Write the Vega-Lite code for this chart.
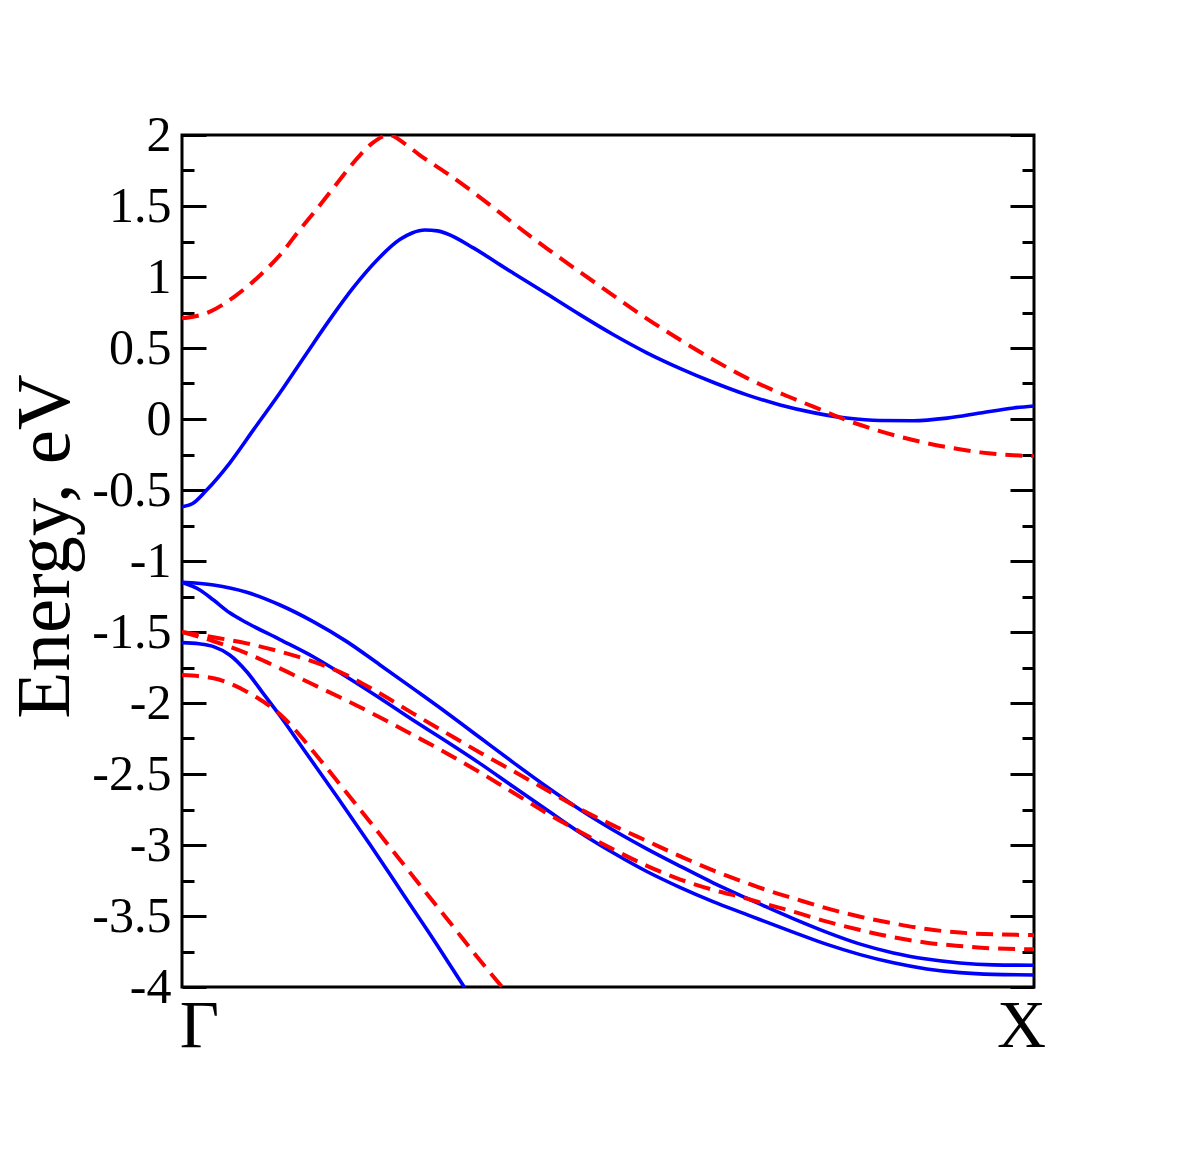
{
  "$schema": "https://vega.github.io/schema/vega-lite/v6.json",
  "width": 852,
  "height": 852,
  "autosize": {"type": "none"},
  "padding": {"left": 182, "top": 135, "right": 166, "bottom": 175},
  "background": "white",
  "config": {"view": {"stroke": "black", "strokeWidth": 3}, "font": "Liberation Serif"},
  "datasets": {
    "up": [
      {"band": "c", "k": 0, "E": -0.618},
      {"band": "c", "k": 0.012, "E": -0.597},
      {"band": "c", "k": 0.029, "E": -0.5},
      {"band": "c", "k": 0.056, "E": -0.31},
      {"band": "c", "k": 0.084, "E": -0.075},
      {"band": "c", "k": 0.115, "E": 0.185},
      {"band": "c", "k": 0.146, "E": 0.46},
      {"band": "c", "k": 0.174, "E": 0.705},
      {"band": "c", "k": 0.201, "E": 0.925},
      {"band": "c", "k": 0.229, "E": 1.12},
      {"band": "c", "k": 0.256, "E": 1.265},
      {"band": "c", "k": 0.27, "E": 1.31},
      {"band": "c", "k": 0.285, "E": 1.331},
      {"band": "c", "k": 0.3, "E": 1.325},
      {"band": "c", "k": 0.311, "E": 1.305},
      {"band": "c", "k": 0.342, "E": 1.205},
      {"band": "c", "k": 0.373, "E": 1.087},
      {"band": "c", "k": 0.389, "E": 1.027},
      {"band": "c", "k": 0.428, "E": 0.882},
      {"band": "c", "k": 0.467, "E": 0.735},
      {"band": "c", "k": 0.506, "E": 0.595},
      {"band": "c", "k": 0.545, "E": 0.468},
      {"band": "c", "k": 0.585, "E": 0.355},
      {"band": "c", "k": 0.624, "E": 0.257},
      {"band": "c", "k": 0.663, "E": 0.17},
      {"band": "c", "k": 0.702, "E": 0.099},
      {"band": "c", "k": 0.741, "E": 0.045},
      {"band": "c", "k": 0.78, "E": 0.007},
      {"band": "c", "k": 0.819, "E": -0.011},
      {"band": "c", "k": 0.858, "E": -0.012},
      {"band": "c", "k": 0.898, "E": 0.006},
      {"band": "c", "k": 0.937, "E": 0.042},
      {"band": "c", "k": 0.976, "E": 0.078},
      {"band": "c", "k": 1.0, "E": 0.092},
      {"band": "v1", "k": 0, "E": -1.15},
      {"band": "v1", "k": 0.037, "E": -1.169},
      {"band": "v1", "k": 0.076, "E": -1.22},
      {"band": "v1", "k": 0.115, "E": -1.31},
      {"band": "v1", "k": 0.154, "E": -1.427},
      {"band": "v1", "k": 0.193, "E": -1.566},
      {"band": "v1", "k": 0.232, "E": -1.73},
      {"band": "v1", "k": 0.271, "E": -1.897},
      {"band": "v1", "k": 0.311, "E": -2.07},
      {"band": "v1", "k": 0.35, "E": -2.245},
      {"band": "v1", "k": 0.389, "E": -2.42},
      {"band": "v1", "k": 0.428, "E": -2.59},
      {"band": "v1", "k": 0.467, "E": -2.75},
      {"band": "v1", "k": 0.506, "E": -2.894},
      {"band": "v1", "k": 0.545, "E": -3.025},
      {"band": "v1", "k": 0.585, "E": -3.15},
      {"band": "v1", "k": 0.624, "E": -3.268},
      {"band": "v1", "k": 0.663, "E": -3.375},
      {"band": "v1", "k": 0.678, "E": -3.415},
      {"band": "v1", "k": 0.718, "E": -3.52},
      {"band": "v1", "k": 0.757, "E": -3.615},
      {"band": "v1", "k": 0.796, "E": -3.698},
      {"band": "v1", "k": 0.835, "E": -3.76},
      {"band": "v1", "k": 0.874, "E": -3.803},
      {"band": "v1", "k": 0.913, "E": -3.831},
      {"band": "v1", "k": 0.952, "E": -3.844},
      {"band": "v1", "k": 1.0, "E": -3.847},
      {"band": "v2", "k": 0, "E": -1.15},
      {"band": "v2", "k": 0.021, "E": -1.204},
      {"band": "v2", "k": 0.037, "E": -1.275},
      {"band": "v2", "k": 0.056, "E": -1.365},
      {"band": "v2", "k": 0.076, "E": -1.435},
      {"band": "v2", "k": 0.115, "E": -1.553},
      {"band": "v2", "k": 0.154, "E": -1.674},
      {"band": "v2", "k": 0.193, "E": -1.815},
      {"band": "v2", "k": 0.232, "E": -1.965},
      {"band": "v2", "k": 0.271, "E": -2.12},
      {"band": "v2", "k": 0.311, "E": -2.273},
      {"band": "v2", "k": 0.35, "E": -2.427},
      {"band": "v2", "k": 0.389, "E": -2.59},
      {"band": "v2", "k": 0.428, "E": -2.752},
      {"band": "v2", "k": 0.467, "E": -2.912},
      {"band": "v2", "k": 0.506, "E": -3.055},
      {"band": "v2", "k": 0.545, "E": -3.185},
      {"band": "v2", "k": 0.585, "E": -3.3},
      {"band": "v2", "k": 0.624, "E": -3.4},
      {"band": "v2", "k": 0.663, "E": -3.49},
      {"band": "v2", "k": 0.678, "E": -3.525},
      {"band": "v2", "k": 0.718, "E": -3.615},
      {"band": "v2", "k": 0.757, "E": -3.7},
      {"band": "v2", "k": 0.796, "E": -3.772},
      {"band": "v2", "k": 0.835, "E": -3.83},
      {"band": "v2", "k": 0.874, "E": -3.873},
      {"band": "v2", "k": 0.913, "E": -3.899},
      {"band": "v2", "k": 0.952, "E": -3.911},
      {"band": "v2", "k": 1.0, "E": -3.915},
      {"band": "v3", "k": 0, "E": -1.575},
      {"band": "v3", "k": 0.02, "E": -1.583},
      {"band": "v3", "k": 0.037, "E": -1.603},
      {"band": "v3", "k": 0.056, "E": -1.662},
      {"band": "v3", "k": 0.076, "E": -1.78},
      {"band": "v3", "k": 0.095, "E": -1.93},
      {"band": "v3", "k": 0.115, "E": -2.09},
      {"band": "v3", "k": 0.142, "E": -2.32},
      {"band": "v3", "k": 0.182, "E": -2.66},
      {"band": "v3", "k": 0.221, "E": -3.0},
      {"band": "v3", "k": 0.26, "E": -3.35},
      {"band": "v3", "k": 0.299, "E": -3.7},
      {"band": "v3", "k": 0.328, "E": -3.97},
      {"band": "v3", "k": 0.34, "E": -4.08}
    ],
    "down": [
      {"band": "c", "k": 0, "E": 0.709},
      {"band": "c", "k": 0.033, "E": 0.756},
      {"band": "c", "k": 0.064, "E": 0.873},
      {"band": "c", "k": 0.092, "E": 1.014},
      {"band": "c", "k": 0.115, "E": 1.155},
      {"band": "c", "k": 0.138, "E": 1.331},
      {"band": "c", "k": 0.162, "E": 1.507},
      {"band": "c", "k": 0.185, "E": 1.683},
      {"band": "c", "k": 0.209, "E": 1.859},
      {"band": "c", "k": 0.225, "E": 1.95},
      {"band": "c", "k": 0.243, "E": 2.0},
      {"band": "c", "k": 0.26, "E": 1.945},
      {"band": "c", "k": 0.279, "E": 1.859},
      {"band": "c", "k": 0.311, "E": 1.73},
      {"band": "c", "k": 0.342, "E": 1.596},
      {"band": "c", "k": 0.373, "E": 1.453},
      {"band": "c", "k": 0.389, "E": 1.378},
      {"band": "c", "k": 0.428, "E": 1.202},
      {"band": "c", "k": 0.467, "E": 1.035},
      {"band": "c", "k": 0.506, "E": 0.871},
      {"band": "c", "k": 0.545, "E": 0.709},
      {"band": "c", "k": 0.585, "E": 0.556},
      {"band": "c", "k": 0.624, "E": 0.416},
      {"band": "c", "k": 0.663, "E": 0.289},
      {"band": "c", "k": 0.71, "E": 0.162},
      {"band": "c", "k": 0.741, "E": 0.087},
      {"band": "c", "k": 0.78, "E": -0.008},
      {"band": "c", "k": 0.819, "E": -0.085},
      {"band": "c", "k": 0.858, "E": -0.148},
      {"band": "c", "k": 0.898, "E": -0.198},
      {"band": "c", "k": 0.937, "E": -0.235},
      {"band": "c", "k": 0.976, "E": -0.255},
      {"band": "c", "k": 1.0, "E": -0.261},
      {"band": "r2", "k": 0, "E": -1.5},
      {"band": "r2", "k": 0.037, "E": -1.537},
      {"band": "r2", "k": 0.076, "E": -1.58},
      {"band": "r2", "k": 0.115, "E": -1.638},
      {"band": "r2", "k": 0.154, "E": -1.709},
      {"band": "r2", "k": 0.193, "E": -1.803},
      {"band": "r2", "k": 0.232, "E": -1.932},
      {"band": "r2", "k": 0.271, "E": -2.073},
      {"band": "r2", "k": 0.311, "E": -2.214},
      {"band": "r2", "k": 0.35, "E": -2.35},
      {"band": "r2", "k": 0.389, "E": -2.48},
      {"band": "r2", "k": 0.428, "E": -2.613},
      {"band": "r2", "k": 0.467, "E": -2.745},
      {"band": "r2", "k": 0.506, "E": -2.862},
      {"band": "r2", "k": 0.545, "E": -2.97},
      {"band": "r2", "k": 0.585, "E": -3.08},
      {"band": "r2", "k": 0.624, "E": -3.18},
      {"band": "r2", "k": 0.663, "E": -3.268},
      {"band": "r2", "k": 0.686, "E": -3.317},
      {"band": "r2", "k": 0.718, "E": -3.376},
      {"band": "r2", "k": 0.757, "E": -3.446},
      {"band": "r2", "k": 0.796, "E": -3.505},
      {"band": "r2", "k": 0.835, "E": -3.552},
      {"band": "r2", "k": 0.874, "E": -3.592},
      {"band": "r2", "k": 0.913, "E": -3.617},
      {"band": "r2", "k": 0.952, "E": -3.629},
      {"band": "r2", "k": 1.0, "E": -3.634},
      {"band": "r3", "k": 0, "E": -1.5},
      {"band": "r3", "k": 0.037, "E": -1.565},
      {"band": "r3", "k": 0.076, "E": -1.65},
      {"band": "r3", "k": 0.115, "E": -1.756},
      {"band": "r3", "k": 0.154, "E": -1.87},
      {"band": "r3", "k": 0.193, "E": -1.982},
      {"band": "r3", "k": 0.232, "E": -2.1},
      {"band": "r3", "k": 0.271, "E": -2.225},
      {"band": "r3", "k": 0.311, "E": -2.355},
      {"band": "r3", "k": 0.35, "E": -2.49},
      {"band": "r3", "k": 0.389, "E": -2.632},
      {"band": "r3", "k": 0.428, "E": -2.775},
      {"band": "r3", "k": 0.467, "E": -2.906},
      {"band": "r3", "k": 0.506, "E": -3.03},
      {"band": "r3", "k": 0.545, "E": -3.145},
      {"band": "r3", "k": 0.585, "E": -3.243},
      {"band": "r3", "k": 0.624, "E": -3.317},
      {"band": "r3", "k": 0.663, "E": -3.378},
      {"band": "r3", "k": 0.682, "E": -3.411},
      {"band": "r3", "k": 0.718, "E": -3.47},
      {"band": "r3", "k": 0.757, "E": -3.54},
      {"band": "r3", "k": 0.796, "E": -3.599},
      {"band": "r3", "k": 0.835, "E": -3.65},
      {"band": "r3", "k": 0.874, "E": -3.688},
      {"band": "r3", "k": 0.913, "E": -3.711},
      {"band": "r3", "k": 0.952, "E": -3.728},
      {"band": "r3", "k": 1.0, "E": -3.735},
      {"band": "r4", "k": 0, "E": -1.803},
      {"band": "r4", "k": 0.037, "E": -1.826},
      {"band": "r4", "k": 0.076, "E": -1.92},
      {"band": "r4", "k": 0.115, "E": -2.08},
      {"band": "r4", "k": 0.162, "E": -2.4},
      {"band": "r4", "k": 0.189, "E": -2.6},
      {"band": "r4", "k": 0.221, "E": -2.84},
      {"band": "r4", "k": 0.252, "E": -3.075},
      {"band": "r4", "k": 0.283, "E": -3.31},
      {"band": "r4", "k": 0.315, "E": -3.55},
      {"band": "r4", "k": 0.346, "E": -3.785},
      {"band": "r4", "k": 0.375, "E": -3.995},
      {"band": "r4", "k": 0.39, "E": -4.1}
    ]
  },
  "layer": [
    {
      "data": {"name": "up"},
      "mark": {"type": "line", "color": "#0000ff", "strokeWidth": 3.6, "interpolate": "monotone", "clip": true},
      "encoding": {
        "x": {
          "field": "k", "type": "quantitative", "title": null,
          "scale": {"domain": [0, 1], "nice": false, "zero": false},
          "axis": {
            "values": [0, 1],
            "labelExpr": "datum.value == 0 ? 'Γ' : 'X'",
            "ticks": false, "domain": false, "grid": false,
            "labelFont": "Liberation Serif", "labelFontSize": 68, "labelColor": "black",
            "labelPadding": 5, "labelFlush": false, "labelOverlap": false,
            "labelAlign": "center", "labelBaseline": "top",
            "labelOffset": {"condition": {"test": "datum.value == 0", "value": 17}, "value": -13}
          }
        },
        "y": {
          "field": "E", "type": "quantitative",
          "scale": {"domain": [-4, 2], "nice": false, "zero": false},
          "axis": {
            "orient": "left",
            "values": [-4, -3.75, -3.5, -3.25, -3, -2.75, -2.5, -2.25, -2, -1.75, -1.5, -1.25, -1, -0.75, -0.5, -0.25, 0, 0.25, 0.5, 0.75, 1, 1.25, 1.5, 1.75, 2],
            "labelExpr": "abs(round(datum.value*4)) % 2 == 0 ? '' + datum.value : ''",
            "tickSize": {"condition": {"test": "abs(round(datum.value*4)) % 2 == 0", "value": -24}, "value": -12},
            "tickWidth": 3, "tickColor": "black",
            "domain": false, "grid": false,
            "labelFont": "Liberation Serif", "labelFontSize": 50, "labelColor": "black",
            "labelPadding": 35, "labelOverlap": false, "labelFlush": false, "labelBound": false,
            "title": "Energy, eV",
            "titleFont": "Liberation Serif", "titleFontSize": 77, "titleFontWeight": "normal", "titleColor": "black",
            "titleX": -114, "titleY": 411, "titleAngle": 270, "titleAlign": "center", "titleBaseline": "alphabetic"
          }
        },
        "detail": {"field": "band"}
      }
    },
    {
      "data": {"name": "down"},
      "mark": {"type": "line", "color": "#ff0000", "strokeWidth": 4, "strokeDash": [17, 9], "interpolate": "monotone", "clip": true},
      "encoding": {
        "x": {"field": "k", "type": "quantitative", "title": null},
        "y": {
          "field": "E", "type": "quantitative",
          "axis": {
            "orient": "right",
            "values": [-4, -3.75, -3.5, -3.25, -3, -2.75, -2.5, -2.25, -2, -1.75, -1.5, -1.25, -1, -0.75, -0.5, -0.25, 0, 0.25, 0.5, 0.75, 1, 1.25, 1.5, 1.75, 2],
            "labels": false,
            "tickSize": {"condition": {"test": "abs(round(datum.value*4)) % 2 == 0", "value": -24}, "value": -12},
            "tickWidth": 3, "tickColor": "black",
            "domain": false, "grid": false, "title": null
          }
        },
        "detail": {"field": "band"}
      }
    }
  ],
  "resolve": {"axis": {"y": "independent"}}
}
